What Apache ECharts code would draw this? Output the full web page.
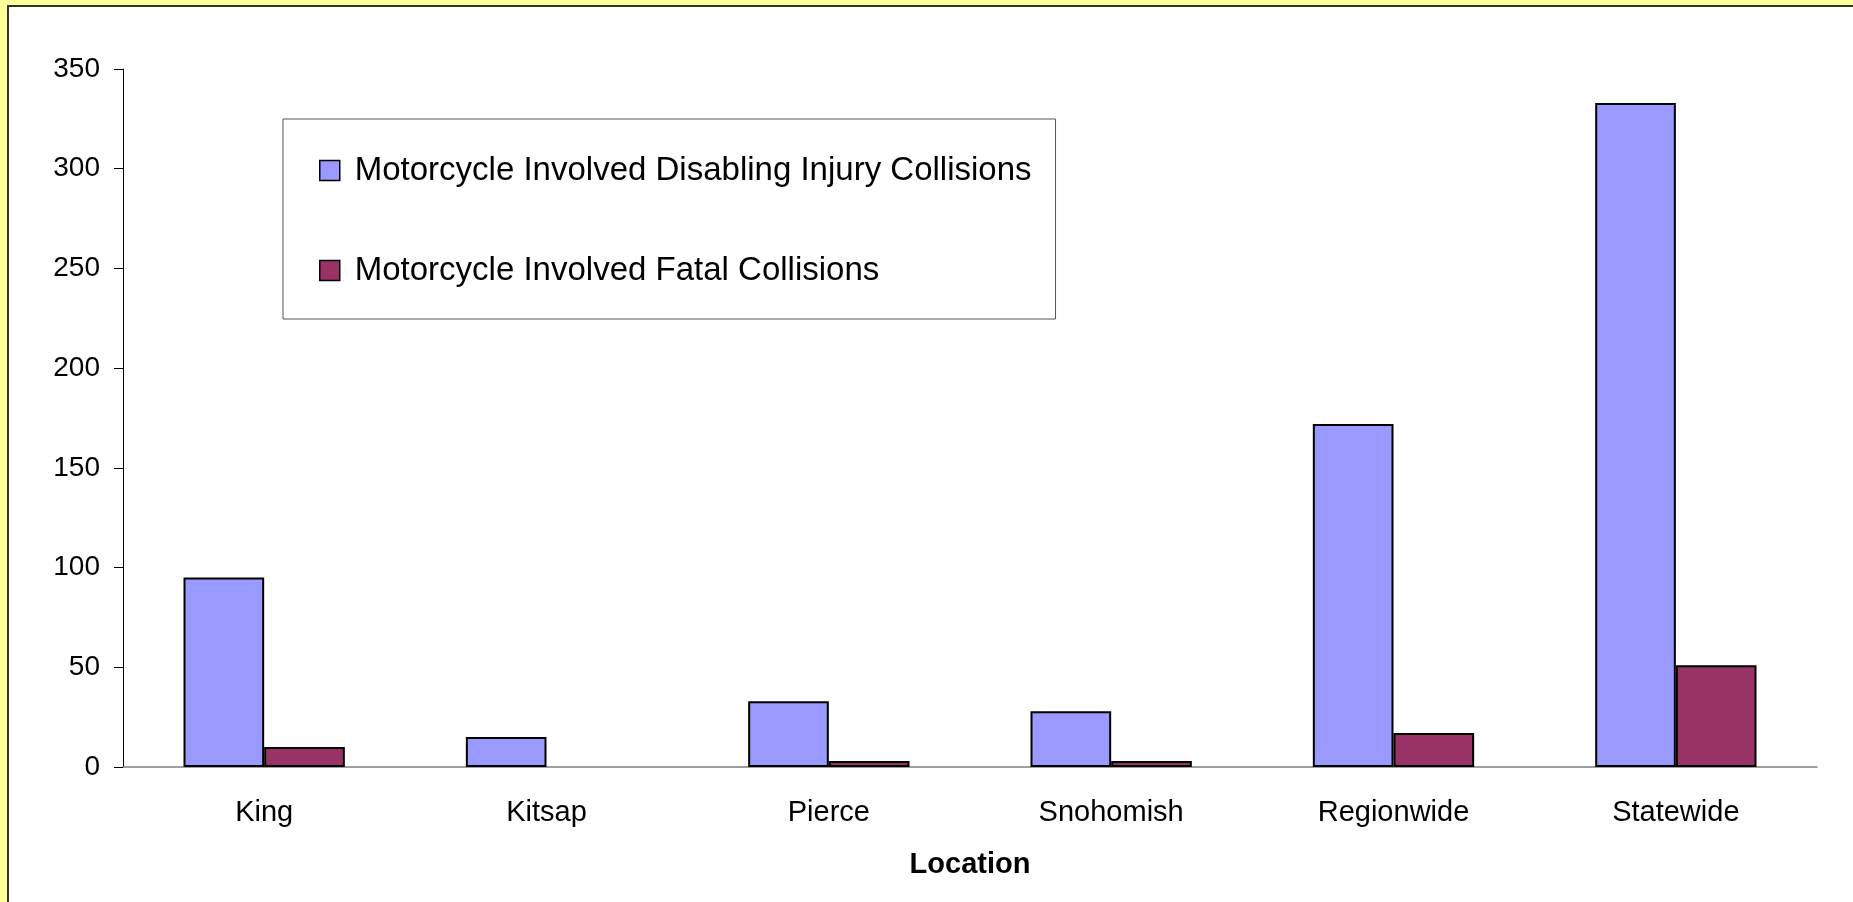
<!DOCTYPE html>
<html lang="en">
<head>
	<meta charset="utf-8">
	<title>Motorcycle Involved Collisions by Location</title>
	<style>
		html, body { margin: 0; padding: 0; }
		#chart { width: 1853px; height: 902px; }
	</style>
</head>
<body>
	<div id="chart"></div>
	<script src="https://cdn.jsdelivr.net/npm/echarts@6/dist/echarts.min.js"></script>
	<script>
		// data
		let locations = ['King', 'Kitsap', 'Pierce', 'Snohomish', 'Regionwide', 'Statewide'];
		let disabling = [95, 15, 33, 28, 172, 333];
		let fatal = [10, 0, 3, 3, 17, 51];
		let yTicks = { min: 0, max: 350, interval: 50 };
		let seriesNames = ['Motorcycle Involved Disabling Injury Collisions', 'Motorcycle Involved Fatal Collisions'];

		let font = 'Liberation Sans';
		let myChart = echarts.init(document.getElementById('chart'), null, { renderer: 'canvas' });

		// zero bars get no outline, like the original
		function barData(arr) {
			return arr.map(function (v) {
				return v === 0 ? { value: v, itemStyle: { borderWidth: 0 } } : v;
			});
		}

		let option = {
			backgroundColor: '#FFFF99',
			animation: false,
			graphic: [{
				type: 'rect',
				z: -10,
				shape: { x: 8, y: 6, width: 2000, height: 2000 },
				style: { fill: '#fff', stroke: '#333', lineWidth: 2 }
			}],
			legend: {
				orient: 'vertical',
				left: 283,
				top: 119,
				padding: [35, 24, 32, 36],
				itemGap: 67,
				itemWidth: 20,
				itemHeight: 20,
				icon: 'rect',
				borderColor: '#555',
				borderWidth: 1,
				backgroundColor: '#fff',
				itemStyle: { borderColor: '#000', borderWidth: 1.5 },
				textStyle: { fontFamily: font, fontSize: 33, color: '#000', lineHeight: 33, padding: [0, 0, 0, 10] },
				data: seriesNames
			},
			grid: { left: 123, top: 69, width: 1694, height: 698, containLabel: false },
			xAxis: {
				type: 'category',
				data: locations,
				name: 'Location',
				nameLocation: 'middle',
				nameGap: 83,
				nameTextStyle: { fontFamily: font, fontSize: 29, fontWeight: 'bold', color: '#000' },
				axisLine: { lineStyle: { color: '#808080', width: 1.5 } },
				axisTick: { length: 9, lineStyle: { color: '#808080' } },
				axisLabel: { fontFamily: font, fontSize: 29, color: '#000', margin: 31 }
			},
			yAxis: {
				type: 'value',
				min: yTicks.min,
				max: yTicks.max,
				interval: yTicks.interval,
				splitLine: { show: false },
				axisLine: { show: true, lineStyle: { color: '#000', width: 1 } },
				axisTick: { show: true, length: 9, lineStyle: { color: '#000' } },
				axisLabel: { fontFamily: font, fontSize: 28, color: '#000', margin: 23 }
			},
			series: [{
				name: seriesNames[0],
				type: 'bar',
				barWidth: '28.57%',
				barGap: '0%',
				itemStyle: { color: '#9999FF', borderColor: '#000', borderWidth: 2 },
				data: barData(disabling)
			}, {
				name: seriesNames[1],
				type: 'bar',
				barWidth: '28.57%',
				barGap: '0%',
				itemStyle: { color: '#993366', borderColor: '#000', borderWidth: 2 },
				data: barData(fatal)
			}]
		};

		myChart.setOption(option);
	</script>
</body>
</html>
